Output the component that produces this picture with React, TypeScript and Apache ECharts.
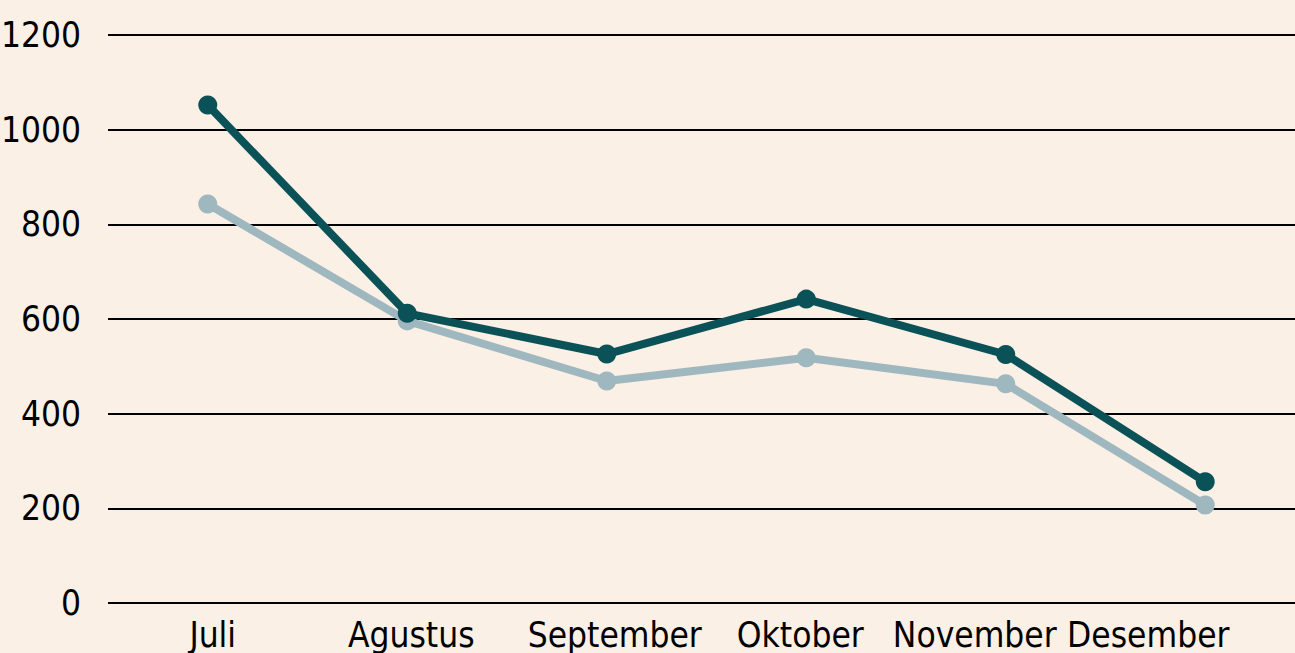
import React, { useEffect, useRef } from "react";
import * as echarts from "echarts";

const categories = ["Juli", "Agustus", "September", "Oktober", "November", "Desember"];
const darkSeries = [1052, 612, 526, 642, 525, 256];
const lightSeries = [843, 596, 469, 518, 463, 207];
const yTicks = { min: 0, max: 1200, interval: 200 };
// horizontal nudges of the category labels as they appear in the reference
const labelShift = [5, 4, 8, -6, -31, -57];

export default function App() {
  const ref = useRef<HTMLDivElement>(null);
  useEffect(() => {
    document.body.style.margin = "0";
    document.body.style.overflow = "hidden";
    const chart = echarts.init(ref.current!, null, { renderer: "svg" });
    const font = "'DejaVu Sans Condensed', 'DejaVu Sans', sans-serif";
    const fontSize = 35;
    const rich: Record<string, any> = {};
    labelShift.forEach((s, i) => {
      rich["s" + i] = {
        fontFamily: font,
        fontSize,
        color: "#000",
        padding: s >= 0 ? [0, 0, 0, 2 * s] : [0, -2 * s, 0, 0],
      };
    });
    chart.setOption({
      animation: false,
      backgroundColor: "#FAF0E6",
      grid: {
        left: 108,
        right: 0,
        top: 35,
        bottom: 50,
        containLabel: false,
        outerBoundsMode: "none",
      },
      xAxis: {
        type: "category",
        data: categories,
        boundaryGap: true,
        axisLine: { show: false },
        axisTick: { show: false },
        axisLabel: {
          margin: 14,
          interval: 0,
          hideOverlap: false,
          formatter: (v: string, i: number) => `{s${i}|${v}}`,
          rich,
        },
      },
      yAxis: {
        type: "value",
        min: yTicks.min,
        max: yTicks.max,
        interval: yTicks.interval,
        axisLine: { show: false },
        axisTick: { show: false },
        splitLine: { show: true, lineStyle: { color: "#000", width: 2.2 } },
        axisLabel: {
          margin: 27,
          fontFamily: font,
          fontSize,
          color: "#000",
          formatter: (v: number) => String(v),
        },
      },
      series: [
        {
          type: "line",
          data: lightSeries,
          symbol: "circle",
          symbolSize: 19,
          lineStyle: { color: "#9FB7BE", width: 8 },
          itemStyle: { color: "#9FB7BE" },
          z: 2,
        },
        {
          type: "line",
          data: darkSeries,
          symbol: "circle",
          symbolSize: 19,
          lineStyle: { color: "#0A5257", width: 8 },
          itemStyle: { color: "#0A5257" },
          z: 3,
        },
      ],
    });
    return () => chart.dispose();
  }, []);
  return (
    <div style={{ position: "fixed", left: 0, top: 0, width: 1295, height: 653, overflow: "hidden" }}>
      <div ref={ref} style={{ width: 1305, height: 653 }} />
    </div>
  );
}
